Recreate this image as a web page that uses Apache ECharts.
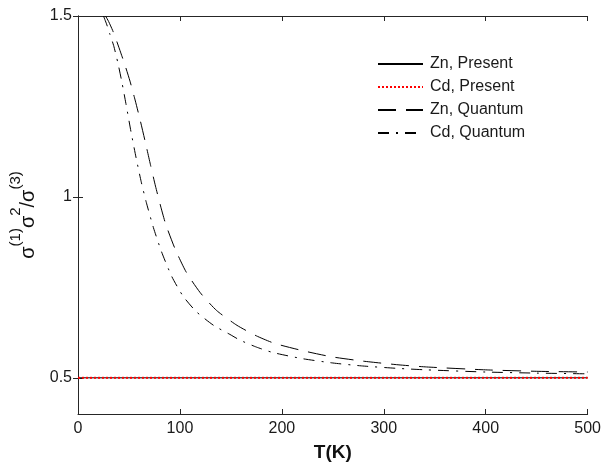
<!DOCTYPE html>
<html>
<head>
<meta charset="utf-8">
<script src="https://cdn.jsdelivr.net/npm/echarts@6/dist/echarts.min.js"></script>
<style>html,body{margin:0;padding:0;background:#fff}#c{width:604px;height:467px}</style>
</head>
<body>
<div id="c"></div>
<script>
// Temperatures (K) and ratio values
var presentT = [0, 500];
var znPresent = [0.5, 0.5];
var cdPresent = [0.5, 0.5];

var znQuantumT = [27, 30, 34, 38, 42, 46, 51, 56, 61, 66, 71, 76, 81, 86, 95, 106, 120, 136, 156, 175, 193, 222, 249, 280, 314, 342, 400, 450, 500];
var znQuantum  = [1.500, 1.485, 1.460, 1.430, 1.398, 1.365, 1.320, 1.268, 1.212, 1.152, 1.090, 1.030, 0.975, 0.925, 0.858, 0.793, 0.735, 0.686, 0.645, 0.616, 0.595, 0.574, 0.558, 0.546, 0.536, 0.530, 0.522, 0.518, 0.516];

var cdQuantumT = [25, 28, 31, 35, 39, 43, 47, 52, 57, 62, 67, 74, 82, 92, 103, 116, 133, 149, 159, 175, 191, 220, 250, 278, 314, 342, 400, 450, 500];
var cdQuantum  = [1.500, 1.478, 1.452, 1.418, 1.372, 1.318, 1.258, 1.180, 1.108, 1.042, 0.985, 0.915, 0.848, 0.780, 0.726, 0.683, 0.645, 0.620, 0.604, 0.585, 0.570, 0.553, 0.541, 0.533, 0.526, 0.522, 0.516, 0.513, 0.511];

var seriesNames = ['Zn, Present', 'Cd, Present', 'Zn, Quantum', 'Cd, Quantum'];
var xTicks = [0, 100, 200, 300, 400, 500];
var yTicks = [0.5, 1, 1.5];

function pairs(xs, ys) { return xs.map(function (x, i) { return [x, ys[i]]; }); }

var FONT = '"Liberation Sans", Arial, sans-serif';
var AX = '#262626';

var chart = echarts.init(document.getElementById('c'), null, {renderer: 'canvas'});
chart.setOption({
  animation: false,
  backgroundColor: '#ffffff',
  grid: {left: 78, right: 16, top: 16, bottom: 50, containLabel: false},
  legend: {
    orient: 'vertical', left: 372, top: 51,
    itemWidth: 45, itemHeight: 14, itemGap: 7,
    itemStyle: {color: 'rgba(0,0,0,0)', borderWidth: 0, opacity: 0},
    textStyle: {fontFamily: FONT, fontSize: 16, color: '#1a1a1a', padding: [0, 0, 0, 2]},
    data: seriesNames
  },
  xAxis: [{
    type: 'value', min: 0, max: 500, interval: 100, position: 'bottom',
    name: 'T(K)', nameLocation: 'middle', nameGap: 29,
    nameTextStyle: {fontFamily: FONT, fontSize: 19, fontWeight: 'bold', color: '#111'},
    axisLine: {show: true, lineStyle: {color: AX, width: 1}},
    axisTick: {show: true, inside: true, length: 5, lineStyle: {color: AX}},
    axisLabel: {fontFamily: FONT, fontSize: 16, color: '#1a1a1a', margin: 7},
    splitLine: {show: false}
  }, {
    type: 'value', min: 0, max: 500, interval: 100, position: 'top',
    axisLine: {show: true, lineStyle: {color: AX, width: 1}},
    axisTick: {show: true, inside: true, length: 5, lineStyle: {color: AX}},
    axisLabel: {show: false}, splitLine: {show: false}
  }],
  yAxis: [{
    type: 'value', min: 0.4, max: 1.5, position: 'left',
    name: '{s|σ}{p|(1)}{s|σ}{p|2}{s|/σ}{p|(3)}',
    nameLocation: 'middle', nameRotate: 90, nameGap: 34,
    nameTextStyle: {
      fontFamily: FONT, color: '#111',
      rich: {
        s: {fontFamily: FONT, fontSize: 20, color: '#111', verticalAlign: 'bottom', lineHeight: 30},
        p: {fontFamily: FONT, fontSize: 15, color: '#111', verticalAlign: 'top', lineHeight: 30}
      }
    },
    axisLine: {show: true, lineStyle: {color: AX, width: 1}},
    axisTick: {show: true, inside: true, length: 5, customValues: yTicks, lineStyle: {color: AX}},
    axisLabel: {fontFamily: FONT, fontSize: 16, color: '#1a1a1a', margin: 6, customValues: yTicks},
    splitLine: {show: false}
  }, {
    type: 'value', min: 0.4, max: 1.5, position: 'right',
    axisLine: {show: true, lineStyle: {color: AX, width: 1}},
    axisTick: {show: true, inside: true, length: 5, customValues: yTicks, lineStyle: {color: AX}},
    axisLabel: {show: false}, splitLine: {show: false}
  }],
  series: [{
    name: seriesNames[0], type: 'line', xAxisIndex: 0, yAxisIndex: 0,
    data: pairs(presentT, znPresent), showSymbol: false, symbol: 'none',
    lineStyle: {color: '#000', width: 1, type: 'solid'}, itemStyle: {color: '#000'}
  }, {
    name: seriesNames[1], type: 'line', xAxisIndex: 0, yAxisIndex: 0,
    data: pairs(presentT, cdPresent), showSymbol: false, symbol: 'none',
    lineStyle: {color: '#ff0000', width: 2, type: [2, 2]}, itemStyle: {color: '#ff0000'}
  }, {
    name: seriesNames[2], type: 'line', xAxisIndex: 0, yAxisIndex: 0,
    data: pairs(znQuantumT, znQuantum), showSymbol: false, symbol: 'none',
    smooth: 0.2, clip: true,
    lineStyle: {color: '#000', width: 1, type: [18, 10]}, itemStyle: {color: '#000'}
  }, {
    name: seriesNames[3], type: 'line', xAxisIndex: 0, yAxisIndex: 0,
    data: pairs(cdQuantumT, cdQuantum), showSymbol: false, symbol: 'none',
    smooth: 0.2, clip: true,
    lineStyle: {color: '#000', width: 1, type: [11, 7, 2, 7]}, itemStyle: {color: '#000'}
  }]
});
</script>
</body>
</html>
